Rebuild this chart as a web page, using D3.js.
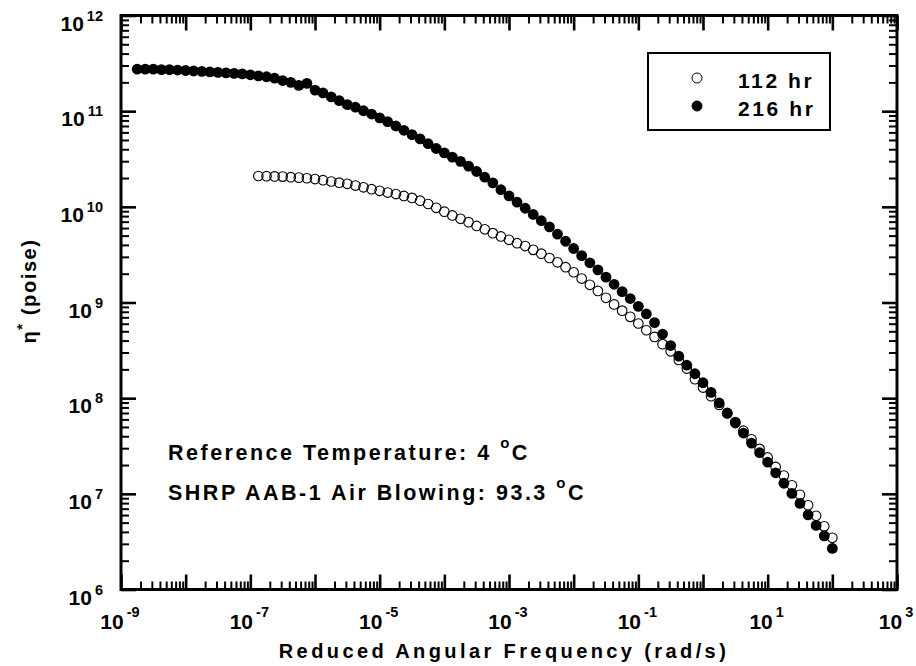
<!DOCTYPE html>
<html><head><meta charset="utf-8">
<script src="https://cdn.jsdelivr.net/npm/d3@7"></script>
<style>
body{margin:0;background:#fff}
svg{display:block}
text{font-family:"Liberation Sans",Arial,sans-serif;font-weight:bold;fill:#000}
</style></head><body>
<svg id="c" width="916" height="666"></svg>
<script>
// ---- data ----
const freq216 = [1.78e-9,2.37e-9,3.16e-9,4.22e-9,5.62e-9,7.50e-9,1.00e-8,1.33e-8,1.78e-8,2.37e-8,3.16e-8,4.22e-8,5.62e-8,7.50e-8,
  1.00e-7,1.33e-7,1.78e-7,2.37e-7,3.16e-7,4.22e-7,5.62e-7,7.50e-7,1.00e-6,1.33e-6,1.78e-6,2.37e-6,3.16e-6,4.22e-6,5.62e-6,7.50e-6,
  1.00e-5,1.33e-5,1.78e-5,2.37e-5,3.16e-5,4.22e-5,5.62e-5,7.50e-5,1.00e-4,1.33e-4,1.78e-4,2.37e-4,3.16e-4,4.22e-4,5.62e-4,7.50e-4,
  1.00e-3,1.33e-3,1.78e-3,2.37e-3,3.16e-3,4.22e-3,5.62e-3,7.50e-3,1.00e-2,1.33e-2,1.78e-2,2.37e-2,3.16e-2,4.22e-2,5.62e-2,7.50e-2,
  0.100,0.133,0.178,0.237,0.316,0.422,0.562,0.750,1.00,1.33,1.78,2.37,3.16,4.22,5.62,7.50,10.0,13.3,17.8,23.7,31.6,42.2,56.2,75.0,100];
const eta216 = [2.75e11,2.75e11,2.75e11,2.72e11,2.72e11,2.69e11,2.66e11,2.63e11,2.60e11,2.57e11,2.54e11,2.51e11,2.48e11,2.45e11,
  2.40e11,2.34e11,2.29e11,2.21e11,2.09e11,2.00e11,1.86e11,1.95e11,1.66e11,1.55e11,1.41e11,1.29e11,1.17e11,1.10e11,1.01e11,9.33e10,
  8.51e10,7.76e10,7.00e10,6.31e10,5.69e10,5.13e10,4.57e10,4.07e10,3.67e10,3.31e10,2.99e10,2.66e10,2.34e10,2.04e10,1.78e10,1.51e10,
  1.30e10,1.12e10,9.66e9,8.32e9,7.16e9,6.17e9,5.19e9,4.37e9,3.67e9,3.09e9,2.60e9,2.19e9,1.84e9,1.55e9,1.30e9,1.10e9,
  9.12e8,7.59e8,6.17e8,4.68e8,3.55e8,2.75e8,2.21e8,1.80e8,1.45e8,1.15e8,8.91e7,7.00e7,5.50e7,4.32e7,3.39e7,2.69e7,
  2.14e7,1.66e7,1.29e7,1.01e7,7.94e6,6.03e6,4.68e6,3.63e6,2.69e6];
const freq112 = [1.33e-7,1.78e-7,2.37e-7,3.16e-7,4.22e-7,5.62e-7,7.50e-7,1.00e-6,1.33e-6,1.78e-6,2.37e-6,3.16e-6,4.22e-6,5.62e-6,7.50e-6,
  1.00e-5,1.33e-5,1.78e-5,2.37e-5,3.16e-5,4.22e-5,5.62e-5,7.50e-5,1.00e-4,1.33e-4,1.78e-4,2.37e-4,3.16e-4,4.22e-4,5.62e-4,7.50e-4,
  1.00e-3,1.33e-3,1.78e-3,2.37e-3,3.16e-3,4.22e-3,5.62e-3,7.50e-3,1.00e-2,1.33e-2,1.78e-2,2.37e-2,3.16e-2,4.22e-2,5.62e-2,7.50e-2,
  0.100,0.133,0.178,0.237,0.316,0.422,0.562,0.750,1.00,1.33,1.78,2.37,3.16,4.22,5.62,7.50,10.0,13.3,17.8,23.7,31.6,42.2,56.2,75.0,100];
const eta112 = [2.10e10,2.09e10,2.08e10,2.07e10,2.04e10,2.02e10,1.99e10,1.95e10,1.90e10,1.84e10,1.79e10,1.74e10,1.67e10,1.60e10,1.53e10,
  1.47e10,1.41e10,1.36e10,1.30e10,1.24e10,1.16e10,1.07e10,9.77e9,8.91e9,8.13e9,7.50e9,6.92e9,6.31e9,5.82e9,5.31e9,4.90e9,
  4.52e9,4.17e9,3.89e9,3.55e9,3.24e9,2.92e9,2.63e9,2.34e9,2.07e9,1.78e9,1.53e9,1.32e9,1.12e9,9.55e8,8.22e8,7.08e8,
  6.03e8,5.13e8,4.37e8,3.67e8,3.09e8,2.51e8,2.04e8,1.58e8,1.29e8,1.05e8,8.51e7,6.92e7,5.62e7,4.57e7,3.72e7,2.95e7,
  2.40e7,1.91e7,1.55e7,1.23e7,9.77e6,7.59e6,5.89e6,4.57e6,3.47e6];
const seriesNames = ["112 hr", "216 hr"];
const xTickExps = [-9, -7, -5, -3, -1, 1, 3];
const yTickExps = [6, 7, 8, 9, 10, 11, 12];
const xTitle = "Reduced Angular Frequency (rad/s)";
const yTitleSymbol = "η";
const yTitleUnit = " (poise)";
const notes = [["Reference Temperature: 4 ", "C"], ["SHRP AAB-1 Air Blowing: 93.3 ", "C"]];

// ---- layout ----
const L = 121, R = 897, T = 15.5, B = 589.5;
const svg = d3.select("#c");
const x = d3.scaleLog().domain([1e-9, 1e3]).range([L, R]);
const y = d3.scaleLog().domain([1e6, 1e12]).range([B, T]);

function decadeTicks(lo, hi) {
  const maj = [], min = [];
  for (let e = lo; e <= hi; e++) {
    maj.push(Math.pow(10, e));
    if (e < hi) for (let k = 2; k <= 9; k++) min.push(k * Math.pow(10, e));
  }
  return {maj, min};
}
const xt = decadeTicks(-9, 3), yt = decadeTicks(6, 12);

function addAxis(axisGen, scale, vals, size, transform, sw) {
  const g = svg.append("g").attr("transform", transform)
    .call(axisGen(scale).tickValues(vals).tickSize(size).tickFormat(""));
  g.select(".domain").remove();
  g.selectAll(".tick line").attr("stroke", "#000").attr("stroke-width", sw);
}
const MAJ = 15, MIN = 8;
addAxis(d3.axisBottom, x, xt.maj, -MAJ, `translate(0,${B})`, 2.6);
addAxis(d3.axisBottom, x, xt.min, -MIN, `translate(0,${B})`, 2);
addAxis(d3.axisTop, x, xt.maj, -MAJ, `translate(0,${T})`, 2.6);
addAxis(d3.axisTop, x, xt.min, -MIN, `translate(0,${T})`, 2);
addAxis(d3.axisLeft, y, yt.maj, -MAJ, `translate(${L},0)`, 2.6);
addAxis(d3.axisLeft, y, yt.min, -MIN, `translate(${L},0)`, 2);
addAxis(d3.axisRight, y, yt.maj, -MAJ, `translate(${R},0)`, 2.6);
addAxis(d3.axisRight, y, yt.min, -MIN, `translate(${R},0)`, 2);

svg.append("rect").attr("x", L).attr("y", T).attr("width", R - L).attr("height", B - T)
  .attr("fill", "none").attr("stroke", "#000").attr("stroke-width", 3);

// tick labels
const FS = 21, SFS = 14.5;
xTickExps.forEach(e => {
  const t = svg.append("text").attr("x", x(Math.pow(10, e)) - 1).attr("y", B + 39)
    .attr("text-anchor", "middle").style("font-size", FS + "px");
  t.append("tspan").text("10");
  t.append("tspan").attr("dx", 3).attr("dy", -12).style("font-size", SFS + "px").text(e);
});
yTickExps.forEach(e => {
  const t = svg.append("text").attr("x", 103).attr("y", y(Math.pow(10, e)) + 15)
    .attr("text-anchor", "end").style("font-size", FS + "px");
  t.append("tspan").text("10");
  t.append("tspan").attr("dx", 3).attr("dy", -10).style("font-size", SFS + "px").text(e);
});

// axis titles
svg.append("text").attr("x", 504).attr("y", 658).attr("text-anchor", "middle")
  .style("font-size", "20px").style("letter-spacing", "3.4px").text(xTitle);
const yt2 = svg.append("text").attr("transform", "translate(36,291) rotate(-90)")
  .attr("text-anchor", "middle").style("font-size", "20px").style("letter-spacing", "1.6px");
yt2.append("tspan").text(yTitleSymbol);
yt2.append("tspan").attr("dy", -9).style("font-size", "15px").text("*");
yt2.append("tspan").attr("dy", 9).text(yTitleUnit);

// data
svg.append("g").selectAll("circle").data(freq112.map((f, i) => [f, eta112[i]])).join("circle")
  .attr("cx", d => x(d[0])).attr("cy", d => y(d[1])).attr("r", 4.8)
  .attr("fill", "none").attr("stroke", "#000").attr("stroke-width", 1.1);
svg.append("g").selectAll("circle").data(freq216.map((f, i) => [f, eta216[i]])).join("circle")
  .attr("cx", d => x(d[0])).attr("cy", d => y(d[1])).attr("r", 5.4)
  .attr("fill", "#000");

// notes
notes.forEach((n, i) => {
  const t = svg.append("text").attr("x", 168).attr("y", 460 + i * 40)
    .style("font-size", "21.5px").style("letter-spacing", "2.5px");
  t.append("tspan").text(n[0]);
  t.append("tspan").attr("dy", -12).style("font-size", "15px").text("o");
  t.append("tspan").attr("dy", 12).text(n[1]);
});

// legend
const lg = svg.append("g");
lg.append("rect").attr("x", 648).attr("y", 53).attr("width", 182).attr("height", 77)
  .attr("fill", "#fff").attr("stroke", "#000").attr("stroke-width", 2);
seriesNames.forEach((s, i) => {
  const cy = 78 + i * 28;
  lg.append("circle").attr("cx", 697).attr("cy", cy).attr("r", 5)
    .attr("fill", i === 0 ? "#fff" : "#000").attr("stroke", "#000").attr("stroke-width", 1);
  lg.append("text").attr("x", 738).attr("y", cy + 10).style("font-size", "21px")
    .style("letter-spacing", "2.6px").text(s);
});
</script>
</body></html>
